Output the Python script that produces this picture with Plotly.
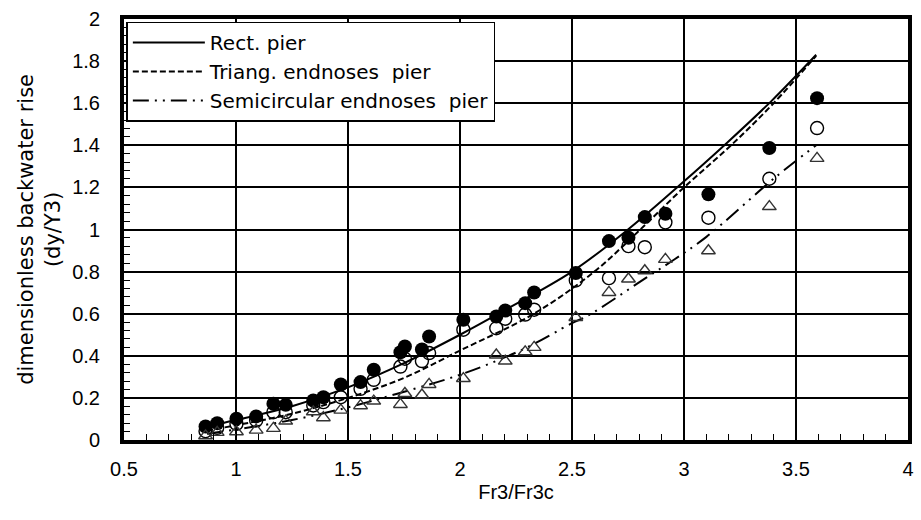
import plotly.graph_objects as go

# Measured points: Froude ratio and dimensionless backwater rise per pier shape
fr_ratio = [0.864, 0.916, 1.002, 1.090, 1.167, 1.222, 1.345, 1.390, 1.468, 1.556,
            1.615, 1.734, 1.754, 1.830, 1.862, 2.015, 2.162, 2.202, 2.291, 2.331,
            2.517, 2.665, 2.752, 2.825, 2.917, 3.109, 3.381, 3.594]
rise_rect = [0.064, 0.080, 0.101, 0.112, 0.172, 0.167, 0.188, 0.203, 0.264, 0.275,
             0.334, 0.417, 0.444, 0.430, 0.492, 0.571, 0.587, 0.615, 0.650, 0.701,
             0.793, 0.945, 0.961, 1.059, 1.075, 1.167, 1.387, 1.624]
rise_triang = [0.042, 0.058, 0.077, 0.093, 0.132, 0.132, 0.164, 0.180, 0.203, 0.243,
               0.286, 0.349, 0.386, 0.375, 0.413, 0.524, 0.531, 0.576, 0.596, 0.619,
               0.758, 0.769, 0.921, 0.916, 1.034, 1.056, 1.241, 1.482]
rise_semi = [0.020, 0.036, 0.039, 0.047, 0.055, 0.090, 0.134, 0.106, 0.142, 0.163,
             0.185, 0.169, 0.221, 0.214, 0.264, 0.292, 0.404, 0.375, 0.419, 0.440,
             0.582, 0.701, 0.765, 0.804, 0.858, 0.899, 1.109, 1.338]

# Fitted relationships for each pier shape
fit_rect_x = [0.87, 1.0, 1.25, 1.5, 1.75, 2.0, 2.18, 2.5, 2.75, 2.98, 3.19, 3.39, 3.59]
fit_rect_y = [0.065, 0.095, 0.16, 0.25, 0.365, 0.50, 0.605, 0.80, 1.0, 1.21, 1.41, 1.61, 1.83]
fit_triang_x = [0.87, 1.0, 1.25, 1.5, 1.75, 2.0, 2.33, 2.6, 2.8, 3.0, 3.21, 3.40, 3.59]
fit_triang_y = [0.045, 0.07, 0.125, 0.20, 0.295, 0.425, 0.60, 0.80, 0.995, 1.20, 1.40, 1.60, 1.825]
fit_semi_x = [0.87, 1.0, 1.25, 1.5, 1.72, 2.0, 2.28, 2.5, 2.57, 2.83, 2.96, 3.10, 3.41, 3.59]
fit_semi_y = [0.03, 0.05, 0.095, 0.155, 0.22, 0.31, 0.43, 0.555, 0.59, 0.77, 0.86, 0.965, 1.25, 1.40]

x_ticks = [0.5, 1, 1.5, 2, 2.5, 3, 3.5, 4]
y_ticks = [0, 0.2, 0.4, 0.6, 0.8, 1, 1.2, 1.4, 1.6, 1.8, 2]

ARIAL = "Liberation Sans, Arial, sans-serif"
WIDE = "DejaVu Sans, sans-serif"

fig = go.Figure()

# fitted curves (shown in legend)
fig.add_trace(go.Scatter(x=fit_rect_x, y=fit_rect_y, mode="lines", name="Rect. pier",
                         line=dict(color="black", width=2, shape="spline", smoothing=1.0)))
fig.add_trace(go.Scatter(x=fit_triang_x, y=fit_triang_y, mode="lines",
                         name="Triang. endnoses  pier",
                         line=dict(color="black", width=2, dash="6px,3px",
                                   shape="spline", smoothing=1.0)))
fig.add_trace(go.Scatter(x=fit_semi_x, y=fit_semi_y, mode="lines",
                         name="Semicircular endnoses  pier",
                         line=dict(color="black", width=2,
                                   dash="16px,6px,2px,6px,2px,6px",
                                   shape="spline", smoothing=1.0)))

# measured data
fig.add_trace(go.Scatter(x=fr_ratio, y=rise_rect, mode="markers", showlegend=False,
                         marker=dict(symbol="circle", size=14, color="black",
                                     line=dict(width=0))))
fig.add_trace(go.Scatter(x=fr_ratio, y=rise_triang, mode="markers", showlegend=False,
                         marker=dict(symbol="circle-open", size=13, color="black",
                                     line=dict(width=1.4))))
fig.add_trace(go.Scatter(x=fr_ratio, y=rise_semi, mode="markers", showlegend=False,
                         marker=dict(symbol="triangle-up-open", size=12, color="#333",
                                     line=dict(width=1.4))))

tick_font = dict(family=ARIAL, size=20, color="black")

fig.update_xaxes(
    range=[0.5, 4], tickvals=x_ticks, ticktext=[f"{v:g}" for v in x_ticks],
    showgrid=True, gridcolor="black", gridwidth=1.8,
    showline=True, linecolor="black", linewidth=4, mirror=True,
    ticks="inside", ticklen=6, tickcolor="black", tickwidth=1,
    minor=dict(dtick=0.1, tick0=0.5, ticks="inside", ticklen=6,
               tickcolor="black", tickwidth=1, showgrid=False),
    tickfont=tick_font, ticklabelstandoff=8, zeroline=False,
    title=dict(text="Fr3/Fr3c", font=dict(family=ARIAL, size=20, color="black"),
               standoff=7),
)
fig.update_yaxes(
    range=[0, 2], tickvals=y_ticks, ticktext=[f"{v:g}" for v in y_ticks],
    showgrid=True, gridcolor="black", gridwidth=1.8,
    showline=True, linecolor="black", linewidth=4, mirror=True,
    ticks="inside", ticklen=6, tickcolor="black", tickwidth=1,
    minor=dict(dtick=0.04, tick0=0, ticks="inside", ticklen=6,
               tickcolor="black", tickwidth=1, showgrid=False),
    tickfont=tick_font, ticklabelstandoff=16, zeroline=False,
)

fig.add_annotation(
    text="dimensionless backwater rise<br>(dy/Y3)", textangle=-90,
    xref="paper", yref="paper", x=-0.108, y=0.5, xanchor="center", yanchor="middle",
    showarrow=False, align="center",
    font=dict(family=WIDE, size=21, color="black"),
)

fig.update_layout(
    width=921, height=520,
    margin=dict(l=124, r=7, t=19, b=80),
    paper_bgcolor="white", plot_bgcolor="white",
    font=dict(family=ARIAL, color="black"),
    legend=dict(x=0.003, y=0.994, xanchor="left", yanchor="top",
                bgcolor="white", bordercolor="black", borderwidth=1.5,
                font=dict(family=WIDE, size=20, color="black"),
                itemwidth=72, tracegroupgap=0),
    showlegend=True,
)

fig.write_html("out.html")
